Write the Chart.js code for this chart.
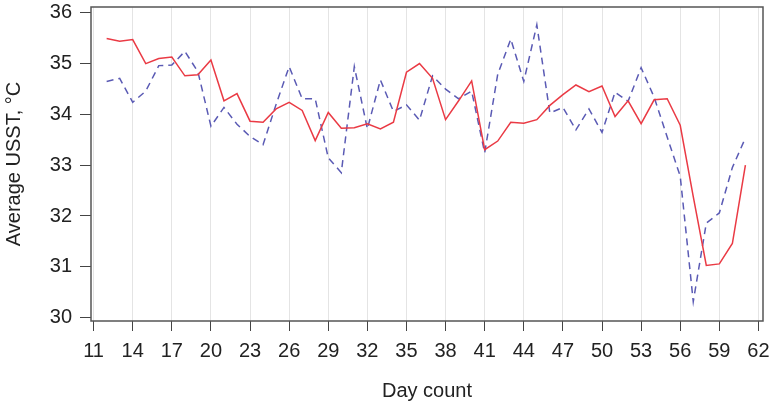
<!DOCTYPE html>
<html><head><meta charset="utf-8">
<script src="https://cdn.jsdelivr.net/npm/chart.js@4/dist/chart.umd.min.js"></script>
<style>html,body{margin:0;padding:0;background:#fff}#wrap{width:771px;height:403px}</style>
</head><body><div id="wrap"><canvas id="c"></canvas></div>
<script>
const days = [12,13,14,15,16,17,18,19,20,21,22,23,24,25,26,27,28,29,30,31,32,33,34,35,36,37,38,39,40,41,42,43,44,45,46,47,48,49,50,51,52,53,54,55,56,57,58,59,60,61];
const redSeries = [35.48,35.43,35.46,34.99,35.09,35.12,34.75,34.77,35.06,34.26,34.40,33.86,33.84,34.10,34.23,34.07,33.48,34.03,33.72,33.73,33.81,33.71,33.84,34.82,34.99,34.70,33.89,34.26,34.65,33.30,33.47,33.84,33.82,33.89,34.17,34.38,34.57,34.44,34.55,33.95,34.26,33.81,34.28,34.30,33.78,32.38,31.03,31.06,31.46,33.00];
const blueSeries = [34.64,34.70,34.23,34.45,34.95,34.96,35.23,34.83,33.76,34.13,33.80,33.56,33.40,34.19,34.93,34.30,34.30,33.14,32.85,34.93,33.71,34.67,34.05,34.18,33.88,34.75,34.49,34.30,34.45,33.24,34.78,35.47,34.64,35.75,34.02,34.13,33.69,34.10,33.64,34.43,34.25,34.91,34.33,33.55,32.78,30.32,31.86,32.06,32.95,33.53];
const xTicks = [11,14,17,20,23,26,29,32,35,38,41,44,47,50,53,56,59,62];
const yTicks = [30,31,32,33,34,35,36];

const frame = {
  id:'frame',
  afterDraw(chart){
    const a = chart.chartArea, ctx = chart.ctx;
    ctx.save();
    ctx.strokeStyle = '#555';
    ctx.lineWidth = 1.5;
    ctx.strokeRect(a.left, a.top, a.right - a.left, a.bottom - a.top);
    ctx.restore();
  }
};

const font = {family:'"Liberation Sans", Arial, sans-serif', size:20};
new Chart(document.getElementById('c'), {
  type:'line',
  data:{
    datasets:[
      {data: days.map((d,i)=>({x:d,y:redSeries[i]})), borderColor:'#ea3a44', borderWidth:1.5, pointRadius:0, tension:0, fill:false},
      {data: days.map((d,i)=>({x:d,y:blueSeries[i]})), borderColor:'#5a5ab4', borderWidth:1.5, borderDash:[7,5], pointRadius:0, tension:0, fill:false}
    ]
  },
  options:{
    responsive:true, maintainAspectRatio:false, animation:false,
    layout:{padding:{top:7,right:8,left:0,bottom:0}},
    plugins:{legend:{display:false}, tooltip:{enabled:false}},
    scales:{
      x:{
        type:'linear', min:10.8, max:62.35,
        afterBuildTicks(s){ s.ticks = xTicks.map(v=>({value:v})); },
        afterFit(s){ s.height = 82; s.paddingLeft = 0; s.paddingRight = 0; },
        border:{display:false},
        grid:{color:'#e4e4e4', tickColor:'#444', tickLength:10, lineWidth:1},
        ticks:{color:'#222', font:font, padding:8, maxRotation:0, autoSkip:false, callback:v=>String(v)},
        title:{display:true, text:'Day count', color:'#222', font:font, padding:{top:8,bottom:0}}
      },
      y:{
        type:'linear', min:29.94, max:36.1,
        afterBuildTicks(s){ s.ticks = yTicks.map(v=>({value:v})); },
        afterFit(s){ s.width = 91; s.paddingTop = 0; s.paddingBottom = 0; },
        border:{display:false},
        grid:{drawOnChartArea:false, tickColor:'#444', tickLength:11},
        ticks:{color:'#222', font:font, padding:8, callback:v=>String(v)},
        title:{display:true, text:'Average USST, °C', color:'#222', font:font, padding:{top:2,bottom:0}}
      }
    }
  },
  plugins:[frame]
});
</script></body></html>
